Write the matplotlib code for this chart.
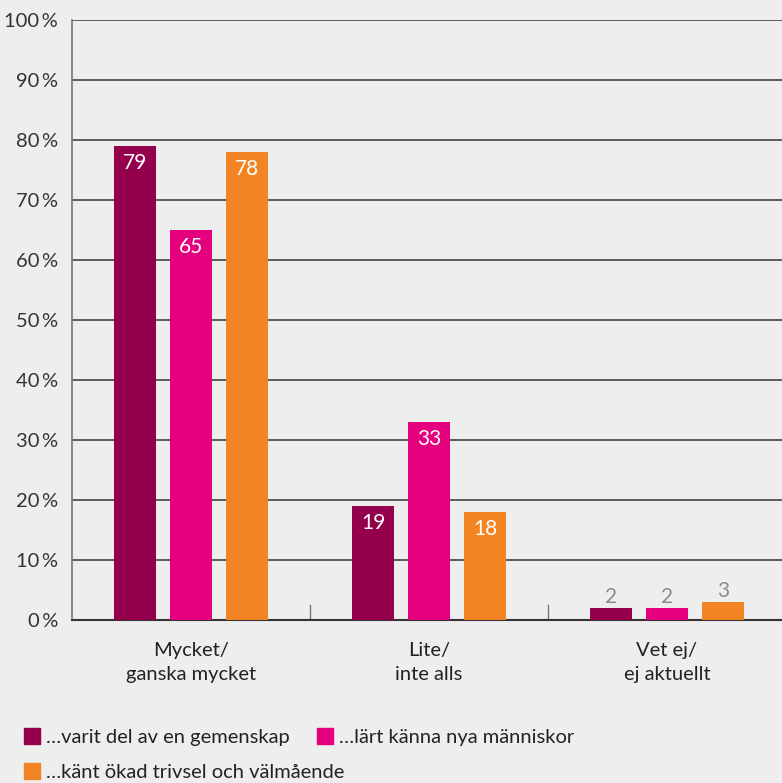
import matplotlib
matplotlib.use("Agg")
import matplotlib.pyplot as plt
import numpy as np
from matplotlib.patches import Rectangle

categories = ["Mycket/\nganska mycket", "Lite/\ninte alls", "Vet ej/\nej aktuellt"]
series_names = ["\u2026varit del av en gemenskap", "\u2026lärt känna nya människor",
                "\u2026känt ökad trivsel och välmående"]
gemenskap = [79, 19, 2]
manniskor = [65, 33, 2]
trivsel = [78, 18, 3]
yticks = [0, 10, 20, 30, 40, 50, 60, 70, 80, 90, 100]
colors = ["#94004C", "#E5007D", "#F28423"]

plt.rcParams['font.family'] = ['Lato', 'DejaVu Sans']
bg = "#EEEEEE"
fig = plt.figure(figsize=(7.82, 7.83), dpi=100, facecolor=bg)
W, H = 782, 783
ax = fig.add_axes([72 / W, 1 - 620 / H, (786 - 72) / W, 600 / H])
ax.set_facecolor(bg)
ax.set_ylim(0, 100)
ax.set_xlim(-0.5, 2.5)

x = np.arange(len(categories))
off = 0.235
width = 0.173
series = [gemenskap, manniskor, trivsel]
for i, (vals, c) in enumerate(zip(series, colors)):
    xs = x + (i - 1) * off
    ax.bar(xs, vals, width=width, color=c, zorder=3)
    for xx, v in zip(xs, vals):
        if v >= 10:
            ax.text(xx, v - 1.2, str(v), ha='center', va='top', color='white',
                    fontsize=15, zorder=4)
        else:
            ax.text(xx, v + 0.1, str(v), ha='center', va='bottom', color='#8C8C8C',
                    fontsize=15, zorder=4)

ax.set_yticks(yticks)
ax.set_yticklabels([f"{t}\u2009%" for t in yticks], fontsize=14.5, color='#333333')
ax.tick_params(axis='y', length=0, pad=10)
ax.grid(axis='y', color='#444444', linewidth=1.2, zorder=0)
ax.set_xticks(x)
ax.set_xticklabels(categories, fontsize=14.5, color='#222222', linespacing=1.5)
ax.tick_params(axis='x', length=0, pad=16)
for s in ['top', 'right']:
    ax.spines[s].set_visible(False)
ax.spines['left'].set_color('#777777')
ax.spines['left'].set_linewidth(1.2)
ax.spines['bottom'].set_color('#333333')
ax.spines['bottom'].set_linewidth(1.5)
for xs in [0.5, 1.5]:
    ax.plot([xs, xs], [0, 2.5], color='#777777', lw=1, zorder=2)

# legend
legend_pos = [(24, 728), (317, 728), (24, 763)]
for (lx, ly), name, c in zip(legend_pos, series_names, colors):
    fig.patches.append(Rectangle((lx / W, 1 - (ly + 16) / H), 16 / W, 16 / H,
                                 transform=fig.transFigure, color=c))
    fig.text((lx + 22) / W, 1 - (ly + 10) / H, name, fontsize=14.5, color='#222222',
             va='center', ha='left')

fig.savefig("out.png", dpi=100, facecolor=bg)
